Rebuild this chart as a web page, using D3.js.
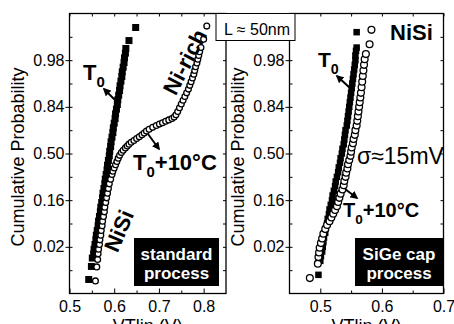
<!DOCTYPE html>
<html>
<head>
<meta charset="utf-8">
<script src="https://cdn.jsdelivr.net/npm/d3@7"></script>
<style>
  body { margin: 0; background: #fff; }
  svg { display: block; font-family: "Liberation Sans", Arial, sans-serif; }
</style>
</head>
<body>
<div id="viz"></div>
<script>
// ── DATA ────────────────────────────────────────────────────────────────────
// each point: [VTlin (V), normal quantile of cumulative probability (sigma)]
const probTicks = [-2, -1, 0, 1, 2];
const probLabels = ["0.02", "0.16", "0.50", "0.84", "0.98"];
const halfSteps = [-2.5, -2, -1.5, -1, -0.5, 0, 0.5, 1, 1.5, 2, 2.5];

const stdTicks = [0.5, 0.6, 0.7, 0.8];
const stdMinor = [0.55, 0.65, 0.75];
const sigeTicks = [0.5, 0.6, 0.7];
const sigeMinor = [0.55, 0.65];

// standard process, T0 (filled squares)
const stdT0 = [
  [0.543, -2.70], [0.549, -2.42], [0.551, -2.24], [0.554, -2.15], [0.555, -2.05],
  [0.557, -1.95], [0.559, -1.85], [0.560, -1.75], [0.562, -1.65], [0.564, -1.55],
  [0.565, -1.45], [0.567, -1.35], [0.569, -1.25], [0.570, -1.15], [0.572, -1.05],
  [0.574, -0.95], [0.575, -0.85], [0.577, -0.75], [0.579, -0.65], [0.580, -0.55],
  [0.582, -0.45], [0.584, -0.35], [0.585, -0.25], [0.587, -0.15], [0.589, -0.05],
  [0.590, 0.05], [0.592, 0.15], [0.593, 0.25], [0.595, 0.35], [0.597, 0.45],
  [0.598, 0.55], [0.600, 0.65], [0.602, 0.75], [0.603, 0.85], [0.605, 0.95],
  [0.607, 1.05], [0.608, 1.15], [0.610, 1.25], [0.612, 1.35], [0.613, 1.45],
  [0.615, 1.55], [0.617, 1.65], [0.618, 1.75], [0.620, 1.85], [0.622, 1.95],
  [0.623, 2.05], [0.625, 2.15], [0.626, 2.25], [0.633, 2.42], [0.648, 2.70]
];

// standard process, T0+10°C (open circles)
const stdT10 = [
  [0.558, -2.73], [0.561, -2.43], [0.563, -2.27], [0.564, -2.15], [0.565, -2.05],
  [0.567, -1.95], [0.568, -1.85], [0.570, -1.75], [0.571, -1.65], [0.573, -1.55],
  [0.574, -1.45], [0.576, -1.35], [0.578, -1.25], [0.579, -1.15], [0.581, -1.05],
  [0.583, -0.95], [0.585, -0.85], [0.587, -0.75], [0.589, -0.65], [0.592, -0.55],
  [0.595, -0.45], [0.597, -0.38], [0.600, -0.31], [0.603, -0.24], [0.606, -0.17],
  [0.609, -0.10], [0.612, -0.04], [0.616, 0.02], [0.620, 0.07], [0.625, 0.12],
  [0.629, 0.16], [0.633, 0.20], [0.638, 0.24], [0.644, 0.28], [0.650, 0.32],
  [0.656, 0.36], [0.662, 0.40], [0.667, 0.44], [0.672, 0.48], [0.678, 0.52],
  [0.686, 0.56], [0.694, 0.60], [0.701, 0.63], [0.708, 0.66], [0.715, 0.69],
  [0.722, 0.72], [0.729, 0.75], [0.734, 0.78], [0.738, 0.83], [0.742, 0.90],
  [0.746, 0.98], [0.750, 1.06], [0.754, 1.14], [0.758, 1.22], [0.762, 1.30],
  [0.766, 1.38], [0.769, 1.46], [0.772, 1.54], [0.775, 1.62], [0.778, 1.70],
  [0.780, 1.78], [0.782, 1.86], [0.785, 1.94], [0.787, 2.02], [0.789, 2.10],
  [0.791, 2.18], [0.794, 2.27], [0.800, 2.45], [0.807, 2.73]
];

// SiGe cap process, T0 (filled squares)
const sigeT0 = [
  [0.497, -2.60], [0.500, -2.30], [0.501, -2.20], [0.503, -2.10], [0.504, -2.00],
  [0.505, -1.90], [0.506, -1.80], [0.508, -1.70], [0.509, -1.60], [0.511, -1.50],
  [0.512, -1.40], [0.514, -1.30], [0.515, -1.20], [0.517, -1.10], [0.519, -1.00],
  [0.520, -0.90], [0.522, -0.80], [0.524, -0.70], [0.525, -0.60], [0.527, -0.50],
  [0.529, -0.40], [0.530, -0.30], [0.532, -0.20], [0.533, -0.10], [0.535, 0.00],
  [0.536, 0.10], [0.538, 0.20], [0.539, 0.30], [0.540, 0.40], [0.541, 0.50],
  [0.543, 0.60], [0.544, 0.70], [0.545, 0.80], [0.546, 0.90], [0.547, 1.00],
  [0.548, 1.10], [0.549, 1.20], [0.550, 1.30], [0.551, 1.40], [0.552, 1.50],
  [0.553, 1.60], [0.554, 1.70], [0.555, 1.80], [0.556, 1.90], [0.557, 2.00],
  [0.557, 2.10], [0.558, 2.20], [0.559, 2.27], [0.559, 2.60]
];

// SiGe cap process, T0+10°C (open circles)
const sigeT10 = [
  [0.483, -2.67], [0.496, -2.36], [0.497, -2.22], [0.498, -2.12], [0.499, -2.02],
  [0.501, -1.92], [0.503, -1.82], [0.505, -1.72], [0.508, -1.62], [0.511, -1.53],
  [0.515, -1.45], [0.518, -1.37], [0.521, -1.29], [0.524, -1.21], [0.527, -1.13],
  [0.529, -1.04], [0.531, -0.95], [0.533, -0.86], [0.536, -0.77], [0.538, -0.68],
  [0.539, -0.59], [0.541, -0.50], [0.542, -0.41], [0.544, -0.32], [0.545, -0.23],
  [0.547, -0.14], [0.549, -0.05], [0.550, 0.04], [0.551, 0.13], [0.553, 0.22],
  [0.554, 0.31], [0.556, 0.40], [0.557, 0.50], [0.559, 0.60], [0.560, 0.70],
  [0.561, 0.80], [0.562, 0.90], [0.563, 1.00], [0.564, 1.10], [0.565, 1.20],
  [0.566, 1.30], [0.567, 1.42], [0.568, 1.54], [0.569, 1.66], [0.570, 1.78],
  [0.571, 1.90], [0.572, 2.02], [0.574, 2.13], [0.580, 2.34], [0.583, 2.65]
];

// ── SETTINGS ────────────────────────────────────────────────────────────────
const width = 454, height = 324;
const font = "'Liberation Sans', Arial, sans-serif";
const svg = d3.select("#viz").append("svg")
    .attr("viewBox", [0, 0, width, height])
    .attr("width", width)
    .attr("height", height)
    .attr("font-family", font);

const y = d3.scaleLinear().domain([-3, 3]).range([293.5, 13.5]);

svg.append("defs").append("marker")
    .attr("id", "arrow")
    .attr("viewBox", "0 0 10 10")
    .attr("refX", 8).attr("refY", 5)
    .attr("markerWidth", 4).attr("markerHeight", 4)
    .attr("orient", "auto")
  .append("path")
    .attr("d", "M0,0L10,5L0,10z")
    .attr("fill", "#000");

// ── PANELS ──────────────────────────────────────────────────────────────────
const panels = [
  { x: d3.scaleLinear().domain([0.5, 0.85]).range([69.5, 226]),
    ticks: stdTicks, minor: stdMinor, sq: stdT0, ci: stdT10,
    sqSize: 7, r: 2.9, yTitle: 24 },
  { x: d3.scaleLinear().domain([0.45, 0.70]).range([289.5, 443.5]),
    ticks: sigeTicks, minor: sigeMinor, sq: sigeT0, ci: sigeT10,
    sqSize: 6.5, r: 3.4, yTitle: 244 }
];

function styleAxis(g) {
  g.select(".domain").remove();
  g.selectAll("line").attr("stroke", "#000");
  g.selectAll("text")
    .attr("fill", "#000")
    .attr("font-family", font)
    .attr("font-size", 16);
}

panels.forEach(p => {
  const [x0, x1] = p.x.range();
  const [yb, yt] = y.range();

  // bottom: labels + inward ticks
  svg.append("g")
      .attr("transform", `translate(0,${yb})`)
      .call(d3.axisBottom(p.x).tickValues(p.ticks).tickFormat(d3.format(".1f"))
        .tickSizeInner(-5).tickSizeOuter(0).tickPadding(7))
      .call(styleAxis);
  svg.append("g")
      .attr("transform", `translate(0,${yb})`)
      .call(d3.axisBottom(p.x).tickValues(p.minor).tickFormat("")
        .tickSizeInner(-3).tickSizeOuter(0))
      .call(styleAxis);
  // top: inward ticks
  svg.append("g")
      .attr("transform", `translate(0,${yt})`)
      .call(d3.axisTop(p.x).tickValues(p.ticks.concat(p.minor)).tickFormat("")
        .tickSizeInner(-3).tickSizeOuter(0))
      .call(styleAxis);
  // left: outward major ticks with labels, inward half-sigma ticks
  svg.append("g")
      .attr("transform", `translate(${x0},0)`)
      .call(d3.axisLeft(y).tickValues(probTicks).tickFormat((d, i) => probLabels[i])
        .tickSizeInner(4).tickSizeOuter(0).tickPadding(1))
      .call(styleAxis);
  svg.append("g")
      .attr("transform", `translate(${x0},0)`)
      .call(d3.axisLeft(y).tickValues(halfSteps).tickFormat("")
        .tickSizeInner(-3).tickSizeOuter(0))
      .call(styleAxis);
  // right: inward ticks
  svg.append("g")
      .attr("transform", `translate(${x1},0)`)
      .call(d3.axisRight(y).tickValues(halfSteps).tickFormat("")
        .tickSizeInner(-3).tickSizeOuter(0))
      .call(styleAxis);

  svg.append("rect")
      .attr("x", x0).attr("y", yt)
      .attr("width", x1 - x0).attr("height", yb - yt)
      .attr("fill", "none").attr("stroke", "#000").attr("stroke-width", 1.3);

  // markers
  svg.append("g").selectAll("rect")
    .data(p.sq)
    .join("rect")
      .attr("x", d => p.x(d[0]) - p.sqSize / 2)
      .attr("y", d => y(d[1]) - p.sqSize / 2)
      .attr("width", p.sqSize).attr("height", p.sqSize)
      .attr("fill", "#000");

  svg.append("g").selectAll("circle")
    .data(p.ci)
    .join("circle")
      .attr("cx", d => p.x(d[0]))
      .attr("cy", d => y(d[1]))
      .attr("r", p.r)
      .attr("fill", "#fff")
      .attr("stroke", "#000")
      .attr("stroke-width", 1.3);

  // axis titles
  svg.append("text")
      .attr("transform", `translate(${p.yTitle},157) rotate(-90)`)
      .attr("text-anchor", "middle")
      .attr("font-size", 18)
      .text("Cumulative Probability");
  svg.append("text")
      .attr("x", (x0 + x1) / 2).attr("y", 332)
      .attr("text-anchor", "middle")
      .attr("font-size", 18)
      .text("VTlin (V)");
});

// ── ANNOTATIONS ─────────────────────────────────────────────────────────────
function tLabel(x, yy, size, rest) {
  const t = svg.append("text")
      .attr("x", x).attr("y", yy)
      .attr("font-size", size).attr("font-weight", "bold");
  t.append("tspan").text("T");
  t.append("tspan").attr("font-size", size * 0.68).attr("dy", 7).text("0");
  if (rest) t.append("tspan").attr("dy", -7).text(rest);
}

function arrow(x1, y1, x2, y2) {
  svg.append("line")
      .attr("x1", x1).attr("y1", y1).attr("x2", x2).attr("y2", y2)
      .attr("stroke", "#000").attr("stroke-width", 2)
      .attr("marker-end", "url(#arrow)");
}

function rotText(cx, cy, angle, str) {
  svg.append("text")
      .attr("transform", `translate(${cx},${cy}) rotate(${angle})`)
      .attr("text-anchor", "middle")
      .attr("dominant-baseline", "central")
      .attr("font-size", 22).attr("font-weight", "bold")
      .text(str);
}

function darkBox(x, yy, w, h, lines) {
  svg.append("rect").attr("x", x).attr("y", yy).attr("width", w).attr("height", h)
      .attr("fill", "#000");
  lines.forEach((s, i) => {
    svg.append("text")
        .attr("x", x + w / 2).attr("y", yy + 22 + i * 19)
        .attr("text-anchor", "middle")
        .attr("font-size", 17).attr("font-weight", "bold")
        .attr("fill", "#fff")
        .text(s);
  });
}

// standard process panel
tLabel(83, 80, 22);
arrow(116, 101, 104, 89);
tLabel(133, 170, 22, "+10°C");
arrow(148, 134, 159, 149);
rotText(185, 62, -63, "Ni-rich");
rotText(119, 231, -67, "NiSi");
darkBox(134, 238, 85, 48, ["standard", "process"]);

// SiGe cap panel
tLabel(318, 67, 21);
arrow(350, 88, 337, 76);
tLabel(343, 217, 20, "+10°C");
arrow(345, 189, 357, 198);
svg.append("text").attr("x", 390).attr("y", 40)
    .attr("font-size", 22).attr("font-weight", "bold").text("NiSi");
svg.append("text").attr("x", 357).attr("y", 164)
    .attr("font-size", 23).text("σ≈15mV");
darkBox(355, 238, 88, 48, ["SiGe cap", "process"]);

// length box
svg.append("rect").attr("x", 216).attr("y", 13.5).attr("width", 79).attr("height", 27)
    .attr("fill", "#fff").attr("stroke", "#000").attr("stroke-width", 1);
svg.append("text").attr("x", 224).attr("y", 35)
    .attr("font-size", 16).text("L ≈ 50nm");
</script>
</body>
</html>
